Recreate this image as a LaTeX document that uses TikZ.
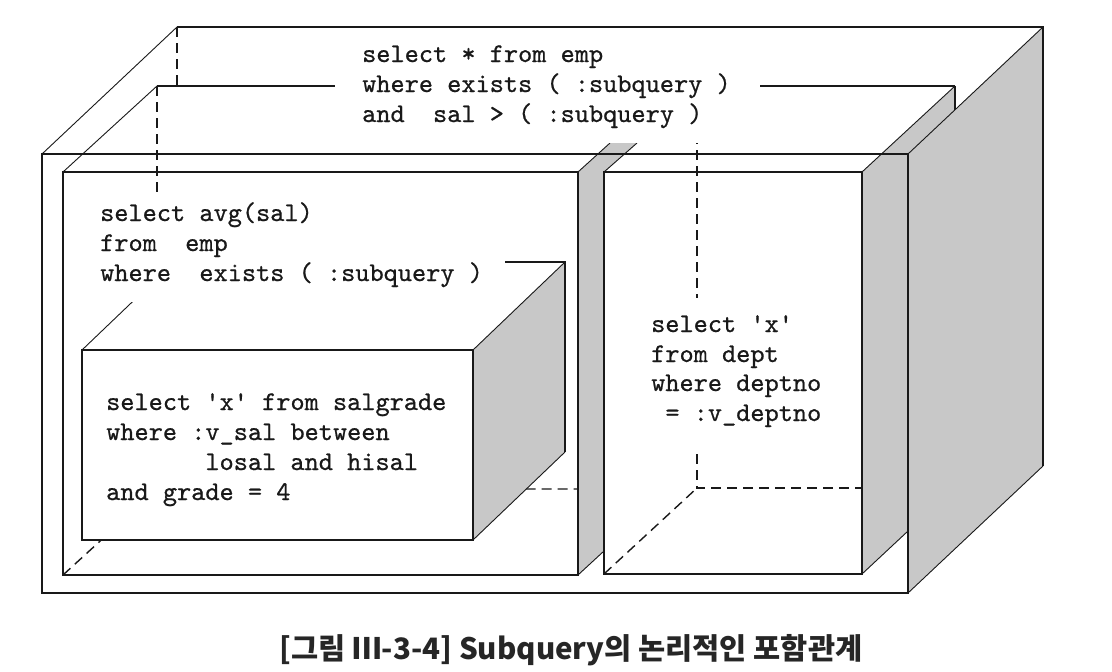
\documentclass[tikz,border=0pt]{standalone}
\usepackage{fontspec}
\newfontfamily\codefont{lmmono10-regular.otf}[Ligatures=TeXOff,FakeBold=0.7]
\newfontfamily\cjk{Noto Sans CJK KR}
\definecolor{sidegray}{RGB}{200,200,200}
\definecolor{ink}{RGB}{25,25,25}
\begin{document}
\begin{tikzpicture}[x=1pt,y=-1pt,
  edge/.style={line width=1.7pt, ink},
  thinedge/.style={line width=0.9pt, ink},
  hidden/.style={line width=1.4pt, ink, dash pattern=on 10pt off 6pt},
  side/.style={fill=sidegray},
  mask/.style={fill=white},
  code/.style={font={\codefont\fontsize{27pt}{30pt}\selectfont}, anchor=base west, inner sep=0pt, text=ink},
  caption/.style={font={\cjk\bfseries\fontsize{29.5pt}{32pt}\selectfont}, anchor=base, inner sep=0pt, text=black!85},
]
\useasboundingbox (0,0) rectangle (1112,672);
\fill[white] (0,0) rectangle (1112,672);

% ---- coordinates
% outer box
\coordinate (Of1) at (42,154);  \coordinate (Of2) at (908,154);
\coordinate (Of3) at (908,593); \coordinate (Of4) at (42,593);
\coordinate (Ob1) at (177,27);  \coordinate (Ob2) at (1043,27);
\coordinate (Ob3) at (1043,466); \coordinate (ObH) at (177,86);
% left box
\coordinate (Lf1) at (63,172);  \coordinate (Lf2) at (578,172);
\coordinate (Lf3) at (578,575); \coordinate (Lf4) at (63,575);
\coordinate (Lb1) at (157,86);  \coordinate (Lb4) at (157,489);
\coordinate (LbE) at (600,489);
\coordinate (Ls1) at (610,143); \coordinate (Ls2) at (637,143);
\coordinate (Ls3) at (604,551);
% right box
\coordinate (Rf1) at (604,172); \coordinate (Rf2) at (862,172);
\coordinate (Rf3) at (862,574); \coordinate (Rf4) at (604,574);
\coordinate (Rb1) at (697,86);  \coordinate (Rb2) at (955,86);
\coordinate (Rb3) at (955,488); \coordinate (Rb4) at (697,488);
\coordinate (Rs3) at (908,531);
% salgrade box
\coordinate (Sf1) at (82,350);  \coordinate (Sf2) at (473,350);
\coordinate (Sf3) at (473,540); \coordinate (Sf4) at (82,540);
\coordinate (Sb1) at (174,262); \coordinate (Sb2) at (565,262);
\coordinate (Sb3) at (565,452);

% ---- hidden edges
\draw[hidden] (Lb1) -- (Lb4);
\draw[hidden] (Lf4) -- (Lb4) -- (LbE);
\draw[hidden] (Ob1) -- (ObH);
\draw[hidden] (Rb1) -- (Rb4) -- (Rb3);
\draw[hidden] (Rf4) -- (Rb4);

% ---- salgrade box (opaque)
\fill[white] (Sf1) -- (Sb1) -- (Sb2) -- (Sf2) -- cycle;
\fill[white] (Sf1) rectangle (Sf3);
\fill[side] (Sf2) -- (Sb2) -- (Sb3) -- (Sf3) -- cycle;
\draw[edge] (Sf1) rectangle (Sf3);
\draw[thinedge] (Sf1) -- (Sb1);
\draw[thinedge] (Sf2) -- (Sb2);
\draw[thinedge] (Sf3) -- (Sb3);
\draw[edge] (Sb1) -- (Sb2) -- (Sb3);

% ---- side faces
\fill[side] (Lf3) -- (Lf2) -- (Ls1) -- (Ls2) -- (Rf1) -- (Ls3) -- cycle;
\fill[side] (Rf2) -- (Rb2) -- (Rb3) -- (Rf3) -- cycle;
\draw[edge] (Rb2) -- (Rb3);
\fill[side] (Of2) -- (Ob2) -- (Ob3) -- (Of3) -- cycle;

% ---- outer box edges
\draw[edge] (Of1) rectangle (Of3);
\draw[edge] (Ob1) -- (Ob2) -- (Ob3);
\draw[thinedge] (Of1) -- (Ob1);
\draw[thinedge] (Of2) -- (Ob2);
\draw[thinedge] (Of3) -- (Ob3);

% ---- left box edges
\draw[edge] (Lf1) rectangle (Lf3);
\draw[thinedge] (Lf1) -- (Lb1);
\draw[edge] (Lb1) -- (Rb2);
\draw[thinedge] (Lf2) -- (Ls1);
\draw[thinedge] (Rf1) -- (Ls2);
\draw[thinedge] (Lf3) -- (Ls3);

% ---- right box edges
\draw[edge] (Rf1) rectangle (Rf3);
\draw[thinedge] (Rf2) -- (Rb2);
\draw[thinedge] (Rf3) -- (Rs3);

% ---- text masks
\fill[mask] (335,35) rectangle (760,143);
\fill[mask] (95,193) rectangle (505,302);
\fill[mask] (640,298) rectangle (830,453);

% ---- texts
\node[code] (ta) at (362,62) {select * from emp};
\node[code] (tb) at (362,92) {where exists ( :subquery )};
\node[code] (tc) at (362,122) {and\ \ sal > ( :subquery )};

\node[code] (ma) at (100,221) {select avg(sal)};
\node[code] (mb) at (100,251) {from\ \ emp};
\node[code] (mc) at (100,281) {where\ \ exists ( :subquery )};

\node[code] (sa) at (106,410) {select 'x' from salgrade};
\node[code] (sb) at (106,440) {where :v\_sal between};
\node[code] (sc) at (106,470) {\ \ \ \ \ \ \ losal and hisal};
\node[code] (sd) at (106,500) {and grade = 4};

\node[code] (ra) at (651,332) {select 'x'};
\node[code] (rb) at (651,362) {from dept};
\node[code] (rc) at (651,391) {where deptno};
\node[code] (rd) at (651,421) {\ = :v\_deptno};

\node[caption] (cap) at (571,659) {[그림 Ⅲ-3-4] Subquery의 논리적인 포함관계};
\end{tikzpicture}
\end{document}
